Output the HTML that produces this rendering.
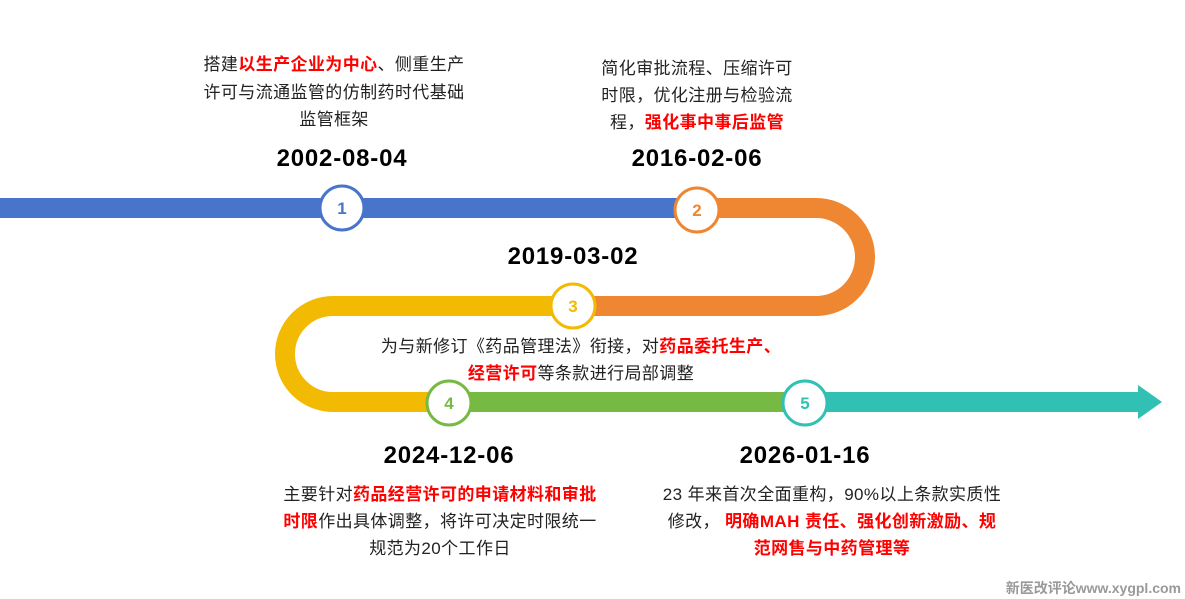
<!DOCTYPE html>
<html><head><meta charset="utf-8"><style>
html,body{margin:0;padding:0;background:#fff;}
svg{display:block;}
text{font-family:"Liberation Sans","Noto Sans CJK SC",sans-serif;}
.d{font-size:24px;font-weight:bold;fill:#000;text-anchor:middle;letter-spacing:0.8px;}
.t{font-size:17px;fill:#222;text-anchor:middle;letter-spacing:0.4px;}
.r{fill:#f00;font-weight:bold;}
.n{font-size:17px;font-weight:bold;text-anchor:middle;}
</style></head><body>
<svg width="1185" height="599" viewBox="0 0 1185 599">
<g fill="none" stroke-width="20">
<line x1="0" y1="208" x2="697" y2="208" stroke="#4874cb"/>
<path d="M697 208 H816 A49 49 0 0 1 816 306 H573" stroke="#ee8632"/>
<path d="M573 306 H333 A48 48 0 0 0 333 402 H449" stroke="#f2ba02"/>
<line x1="449" y1="402" x2="805" y2="402" stroke="#76b943"/>
<line x1="805" y1="402" x2="1140" y2="402" stroke="#30c0b4"/>
</g>
<polygon points="1138,385 1162,402 1138,419" fill="#30c0b4"/>
<g stroke-width="3" fill="#fff">
<circle cx="342" cy="208" r="22" stroke="#4874cb"/>
<circle cx="697" cy="210" r="22" stroke="#ee8632"/>
<circle cx="573" cy="306" r="22" stroke="#f2ba02"/>
<circle cx="449" cy="403" r="22" stroke="#76b943"/>
<circle cx="805" cy="403" r="22" stroke="#30c0b4"/>
</g>
<text class="n" x="342" y="214" fill="#4874cb">1</text>
<text class="n" x="697" y="216" fill="#ee8632">2</text>
<text class="n" x="573" y="312" fill="#f2ba02">3</text>
<text class="n" x="449" y="409" fill="#76b943">4</text>
<text class="n" x="805" y="409" fill="#30c0b4">5</text>

<text class="d" x="342" y="166">2002-08-04</text>
<text class="d" x="697" y="166">2016-02-06</text>
<text class="d" x="573" y="264">2019-03-02</text>
<text class="d" x="449" y="463">2024-12-06</text>
<text class="d" x="805" y="463">2026-01-16</text>

<text class="t" x="334" y="70">搭建<tspan class="r">以生产企业为中心</tspan>、侧重生产</text>
<text class="t" x="334" y="98">许可与流通监管的仿制药时代基础</text>
<text class="t" x="334" y="125">监管框架</text>

<text class="t" x="697" y="74">简化审批流程、压缩许可</text>
<text class="t" x="697" y="101">时限，优化注册与检验流</text>
<text class="t" x="697" y="128">程，<tspan class="r">强化事中事后监管</tspan></text>

<text class="t" x="581" y="352">为与新修订《药品管理法》衔接，对<tspan class="r">药品委托生产、</tspan></text>
<text class="t" x="581" y="379"><tspan class="r">经营许可</tspan>等条款进行局部调整</text>

<text class="t" x="440" y="500">主要针对<tspan class="r">药品经营许可的申请材料和审批</tspan></text>
<text class="t" x="440" y="527"><tspan class="r">时限</tspan>作出具体调整，将许可决定时限统一</text>
<text class="t" x="440" y="554">规范为20个工作日</text>

<text class="t" x="832" y="500">23 年来首次全面重构，90%以上条款实质性</text>
<text class="t" x="832" y="527">修改， <tspan class="r">明确MAH 责任、强化创新激励、规</tspan></text>
<text class="t" x="832" y="554"><tspan class="r">范网售与中药管理等</tspan></text>

<text x="1181" y="593" text-anchor="end" font-size="14" fill="#999" font-weight="bold">新医改评论www.xygpl.com</text>
</svg>
</body></html>
